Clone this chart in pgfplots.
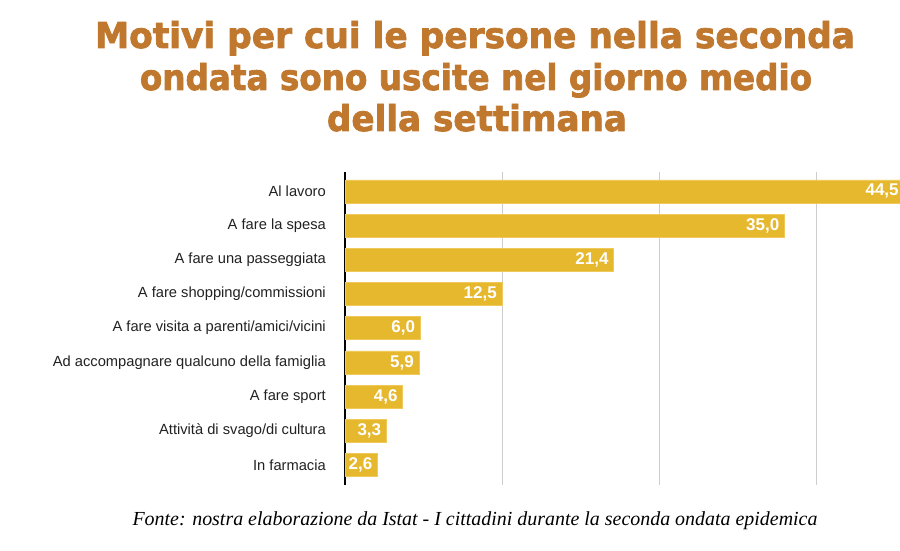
\documentclass[border=0pt]{standalone}
\usepackage{fontspec}
\setmainfont{Liberation Sans}
\newfontfamily\titlefont[BoldFeatures={FakeBold=2.2}]{DejaVu Sans}
\newfontfamily\notefont{Liberation Serif}
\usepackage{pgfplots}
\pgfplotsset{compat=1.18}
\usepackage{pgfplotstable}

\definecolor{barcol}{HTML}{E6B82E}
\definecolor{baredge}{HTML}{EFC95A}
\definecolor{titlecol}{HTML}{C0782F}
\definecolor{gridcol}{HTML}{CDCDCD}
\definecolor{labelcol}{HTML}{222222}

% Percentuale di chi è uscito, per motivo (dal basso verso l'alto)
\pgfplotstableread{
pos value
0 2.6
1 3.3
2 4.6
3 5.9
4 6.0
5 12.5
6 21.4
7 35.0
8 44.5
}\motivi

\begin{document}
\begin{tikzpicture}[x=1pt,y=1pt]
\useasboundingbox (0,0) rectangle (900,551);
\fill[white] (0,0) rectangle (900,551);

% titolo
\node[anchor=base, inner sep=0pt, text=titlecol] at (475,503)
  {\resizebox{760pt}{27pt}{\titlefont\bfseries Motivi per cui le persone nella seconda}};
\node[anchor=base, inner sep=0pt, text=titlecol] at (476,461)
  {\resizebox{672pt}{27pt}{\titlefont\bfseries ondata sono uscite nel giorno medio}};
\node[anchor=base, inner sep=0pt, text=titlecol] at (477,420)
  {\resizebox{300pt}{27pt}{\titlefont\bfseries della settimana}};

\begin{axis}[
  at={(345pt,66pt)}, anchor=south west,
  scale only axis,
  width=560.2pt, height=313pt,
  xbar, bar width=23pt,
  xmin=0, xmax=44.6,
  ymin=-0.585, ymax=8.567,
  enlargelimits=false,
  axis lines*=left,
  x axis line style={draw=none},
  y axis line style={draw=black, line width=1.3pt},
  xtick={12.5,25,37.5},
  xticklabels={},
  xmajorgrids,
  major grid style={draw=gridcol, line width=1pt},
  major tick length=0pt,
  ytick={0,...,8},
  yticklabels={In farmacia, Attività di svago/di cultura, A fare sport,
    Ad accompagnare qualcuno della famiglia, A fare visita a parenti/amici/vicini,
    A fare shopping/commissioni, A fare una passeggiata, A fare la spesa, Al lavoro},
  yticklabel style={font=\fontsize{14.7}{16}\selectfont, text=labelcol,
    anchor=east, inner sep=0pt, xshift=-19pt},
  nodes near coords,
  nodes near coords style={font=\bfseries\fontsize{17}{19}\selectfont, text=white,
    anchor=east, inner sep=0pt, xshift=-5pt},
  point meta=explicit,
  /pgf/number format/.cd, use comma, fixed, fixed zerofill, precision=1,
  /pgf/number format/assume math mode=true,
  /pgfplots/.cd,
  clip=false,
]
\addplot[fill=barcol, draw=baredge, line width=0.6pt]
  table[x=value, y=pos, meta=value] {\motivi};
\end{axis}

% fonte
\node[anchor=base, inner sep=0pt, text=black] at (475,25)
  {\resizebox{685pt}{!}{\notefont\itshape Fonte: nostra elaborazione da Istat - I cittadini durante la seconda ondata epidemica}};
\end{tikzpicture}
\end{document}
